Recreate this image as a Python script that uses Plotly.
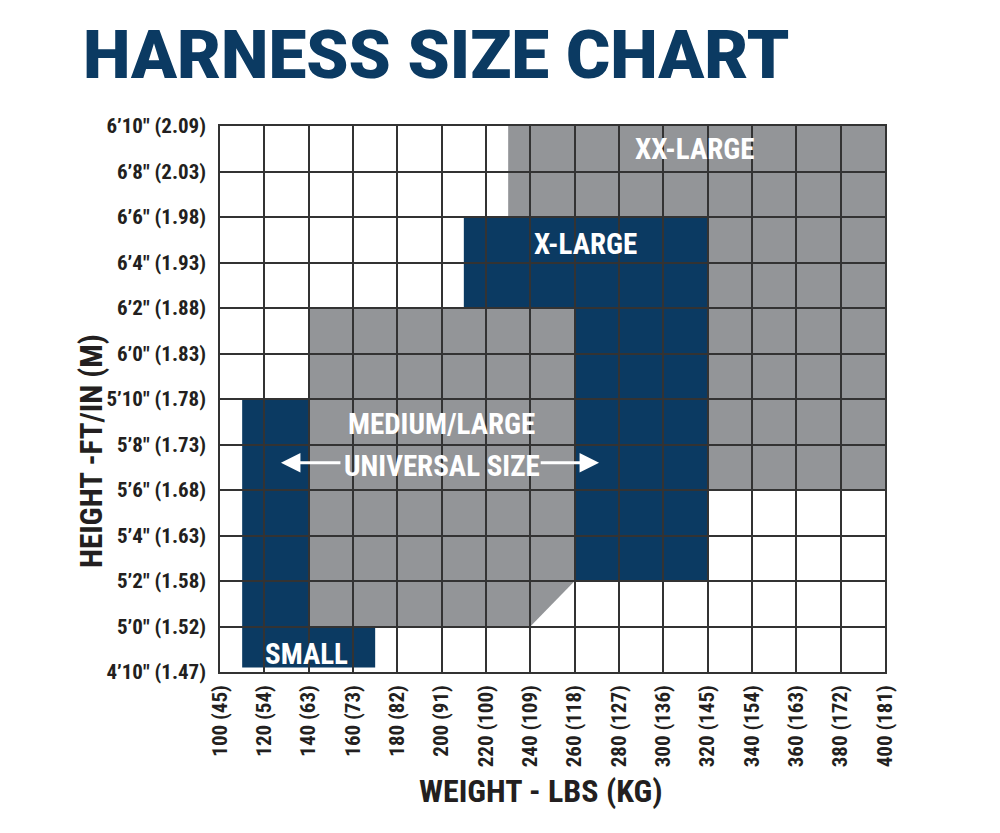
import plotly.graph_objects as go

# ---- data ----
weight_ticks = [100, 120, 140, 160, 180, 200, 220, 240, 260, 280, 300, 320, 340, 360, 380, 400]
weight_labels = ["100 (45)", "120 (54)", "140 (63)", "160 (73)", "180 (82)", "200 (91)", "220 (100)",
                 "240 (109)", "260 (118)", "280 (127)", "300 (136)", "320 (145)", "340 (154)",
                 "360 (163)", "380 (172)", "400 (181)"]
height_ticks = [58, 60, 62, 64, 66, 68, 70, 72, 74, 76, 78, 80, 82]
height_labels = ["4’10″ (1.47)", "5’0″ (1.52)", "5’2″ (1.58)", "5’4″ (1.63)", "5’6″ (1.68)",
                 "5’8″ (1.73)", "5’10″ (1.78)", "6’0″ (1.83)", "6’2″ (1.88)", "6’4″ (1.93)",
                 "6’6″ (1.98)", "6’8″ (2.03)", "6’10″ (2.09)"]

# size regions (weight lbs, height inches)
xxl_w = [230, 400, 400, 230]
xxl_h = [82, 82, 66, 66]
xl_w = [210, 320, 320, 260, 260, 210]
xl_h = [78, 78, 62, 62, 74, 74]
ml_w = [140, 260, 260, 240, 140]
ml_h = [74, 74, 62, 60, 60]
sm_w = [110, 140, 140, 170, 170, 110]
sm_h = [70, 70, 60, 60, 58.2, 58.2]

size_names = ["XX-LARGE", "X-LARGE", "MEDIUM/LARGE", "UNIVERSAL SIZE", "SMALL"]
name_w = [314, 265, 200, 200, 139]
name_h = [81.0, 76.8, 68.9, 67.05, 58.8]

# universal-size arrows (tail weight, head weight) at one height
arrow_tail = [155, 244]
arrow_head = [127.5, 271]
arrow_h = 67.2

NAVY = "#0b3a62"
GRAY = "#939598"
INK = "#231f20"
COND = "Roboto Condensed, Open Sans Condensed, sans-serif"


def path(xs, ys):
    return f"M {xs[0]} {ys[0]} " + " ".join(f"L {x} {y}" for x, y in zip(xs[1:], ys[1:])) + " Z"


fig = go.Figure()
fig.add_trace(go.Scatter(x=[100, 400], y=[58, 82], mode="markers", marker=dict(opacity=0),
                         hoverinfo="skip", showlegend=False))

for xs, ys, col in [(xxl_w, xxl_h, GRAY), (xl_w, xl_h, NAVY), (ml_w, ml_h, GRAY), (sm_w, sm_h, NAVY)]:
    fig.add_shape(type="path", path=path(xs, ys), xref="x", yref="y",
                  fillcolor=col, line=dict(width=0), layer="below")

for t, x, y in zip(size_names, name_w, name_h):
    fig.add_annotation(x=x, y=y, xref="x", yref="y", text=t, showarrow=False,
                       font=dict(family=COND, size=29, color="white", weight="bold"))

for tail, head in zip(arrow_tail, arrow_head):
    fig.add_annotation(x=head, y=arrow_h, ax=tail, ay=arrow_h, xref="x", yref="y", axref="x", ayref="y",
                       text="", showarrow=True, arrowhead=2, arrowsize=1.3, arrowwidth=3,
                       arrowcolor="white")

fig.update_xaxes(range=[100, 400], tickvals=weight_ticks, ticktext=weight_labels, tickangle=-90,
                 showgrid=True, gridcolor="#333333", gridwidth=1.5, showline=True, linecolor="#333333",
                 linewidth=1.5, mirror=True, ticks="", ticklabelstandoff=3, zeroline=False,
                 tickfont=dict(family=COND, size=21, color=INK, weight="bold"))
fig.update_yaxes(range=[58, 82], tickvals=height_ticks, ticktext=height_labels,
                 showgrid=True, gridcolor="#333333", gridwidth=1.5, showline=True, linecolor="#333333",
                 linewidth=1.5, mirror=True, ticks="", ticklabelstandoff=8, zeroline=False,
                 tickfont=dict(family=COND, size=21, color=INK, weight="bold"))

PW, PH = 665, 546
fig.add_annotation(x=(540 - 219) / PW, y=-(790 - 671) / PH, xref="paper", yref="paper",
                   xanchor="center", yanchor="middle", text="WEIGHT - LBS (KG)", showarrow=False,
                   font=dict(family=COND, size=32, color=INK, weight="bold"))
fig.add_annotation(x=-(219 - 90) / PW, y=(671 - 450) / PH, xref="paper", yref="paper",
                   xanchor="center", yanchor="middle", text="HEIGHT -FT/IN (M)", textangle=-90,
                   showarrow=False, font=dict(family=COND, size=31, color=INK, weight="bold"))

fig.update_layout(
    width=1000, height=833,
    margin=dict(l=212, r=123, t=118, b=169, autoexpand=False),
    paper_bgcolor="white", plot_bgcolor="white",
    title=dict(text="HARNESS SIZE CHART", x=0.075, xanchor="left", y=1 - 46 / 833, yanchor="middle",
               xref="container", yref="container",
               font=dict(family="Roboto, Inter, sans-serif", size=67.5, color=NAVY, weight=900)),
    showlegend=False,
)

fig.write_html("out.html")
